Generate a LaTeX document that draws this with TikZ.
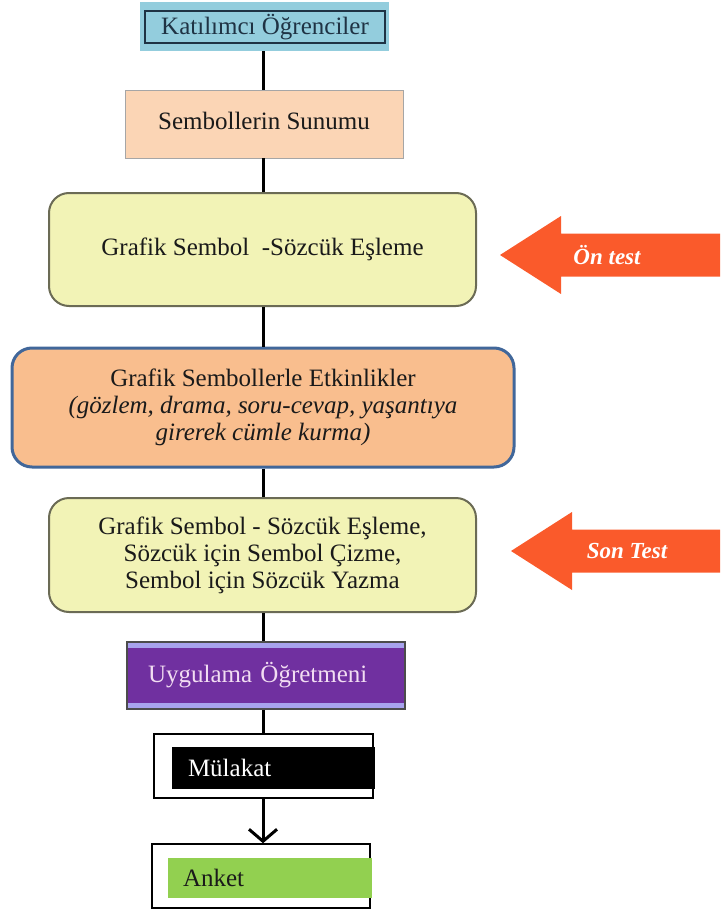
\documentclass[tikz,border=0pt]{standalone}
\usepackage{fontspec}
\setmainfont{Liberation Serif}
\usetikzlibrary{arrows.meta, positioning}
\definecolor{cteal}{HTML}{93CDDD}
\definecolor{cnavy}{HTML}{1F3344}
\definecolor{cpeach}{HTML}{FBD5B5}
\definecolor{cyellow}{HTML}{F2F3B6}
\definecolor{cyelline}{HTML}{6B6B55}
\definecolor{corange}{HTML}{F9BE8E}
\definecolor{cblue}{HTML}{41679A}
\definecolor{cred}{HTML}{FA5A2B}
\definecolor{cpurple}{HTML}{7030A0}
\definecolor{clilac}{HTML}{A8A3EE}
\definecolor{cpink}{HTML}{F2DDF2}
\definecolor{cgreen}{HTML}{92D050}
\definecolor{cgrey}{HTML}{A6A6A6}
\definecolor{cink}{HTML}{1A1A1A}
\tikzset{
  box/.style={inner sep=0pt, align=center, font=\fontsize{25}{27}\selectfont, text=cink},
  soft/.style={box, draw=#1, rounded corners=20pt, line width=2pt},
  frame/.style={box, draw=black, fill=white, line width=1.5pt},
  band/.style={box, align=left, inner xsep=#1, inner ysep=0pt},
  link/.style={draw=black, line width=3pt},
  tag/.style={font=\fontsize{23}{27}\selectfont\bfseries\itshape, text=white},
}

\begin{document}
\begin{tikzpicture}[x=1pt, y=-1pt]
  \useasboundingbox (0,0) rectangle (720,912);
  \coordinate (spine) at (263,0);
  % ---- upper steps ----
  \node[box, fill=cteal, minimum width=249pt, minimum height=49pt] (kat) at (264.5,26.5) {};
  \node[box, draw=cnavy, line width=1.5pt, minimum width=240pt, minimum height=32pt, text=cnavy] (katin) at (265,27) {Katılımcı Öğrenciler};
  \node[box, fill=cpeach, draw=cgrey, line width=0.8pt, minimum width=278pt, minimum height=68pt] (sunum) at (264,124) {\raisebox{6pt}{Sembollerin Sunumu}};
  \node[soft=cyelline, fill=cyellow, minimum width=427pt, minimum height=113pt] (eslemeon) at (262.5,249.5) {Grafik Sembol \ -Sözcük Eşleme};
  \node[soft=cblue, line width=3pt, fill=corange, minimum width=502pt, minimum height=119pt] (etkinlik) at (263,407.5)
    {Grafik Sembollerle Etkinlikler\\ \textit{(gözlem, drama, soru-cevap, yaşantıya}\\ \textit{girerek cümle kurma)}};
  \node[soft=cyelline, fill=cyellow, minimum width=427pt, minimum height=114pt] (eslemeson) at (262.5,555)
    {Grafik Sembol - Sözcük Eşleme,\\ Sözcük için Sembol Çizme,\\ Sembol için Sözcük Yazma};
  % ---- lower steps ----
  \node[box, fill=clilac, draw=black!70, line width=1.5pt, minimum width=278pt, minimum height=67pt] (ogretmen) at (266,675.5) {};
  \node[band=20pt, fill=cpurple, text=cpink, text width=236pt, minimum height=55pt] (ogretmenin) at (266,675.5) {Uygulama Öğretmeni};
  \node[frame, minimum width=219pt, minimum height=64pt] (mulakat) at (263.5,766) {};
  \node[band=16pt, fill=black, text=white, text width=171pt, minimum height=42pt] (mulakatin) at (273.5,768) {Mülakat};
  \node[frame, minimum width=218pt, minimum height=64pt] (anket) at (261,876) {};
  \node[band=15pt, fill=cgreen, text=cink, text width=174pt, minimum height=40pt] (anketin) at (270,878) {Anket};
  % ---- connectors ----
  \foreach \a/\b in {kat/sunum, sunum/eslemeon, eslemeon/etkinlik, etkinlik/eslemeson, eslemeson/ogretmen, ogretmen/mulakat}
    \draw[link] (spine |- \a.south) -- (spine |- \b.north);
  \draw[link, -{Straight Barb[length=12pt, width=28pt, line width=3pt]}] (spine |- mulakat.south) -- (spine |- anket.north);
  % ---- test arrows ----
  \foreach \i/\x/\y/\tx/\t in {on/500/255/607/Ön test, son/511/551/627/Son Test} {
    \fill[cred] (\x,\y) -- ++(61,-39) -- ++(0,17.5) -| (720,\y+21.5) -- (\x+61,\y+21.5) -- ++(0,17.5) -- cycle;
    \node[tag] (tag\i) at (\tx,\y) {\t};
  }
\end{tikzpicture}
\end{document}
